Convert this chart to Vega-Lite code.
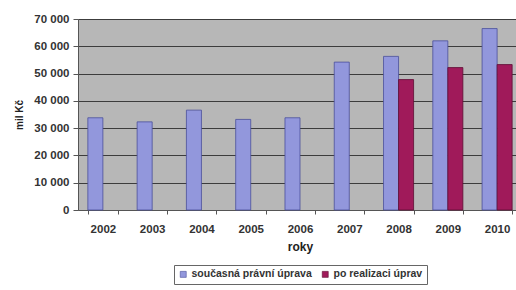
{
  "$schema": "https://vega.github.io/schema/vega-lite/v6.json",
  "autosize": "none",
  "padding": {"left": 78, "top": 19, "right": 0, "bottom": 80},
  "width": 444,
  "height": 191,
  "background": "white",
  "data": {"values": [
    {"rok": "2002", "serie": "současná právní úprava", "hodnota": 33800},
    {"rok": "2003", "serie": "současná právní úprava", "hodnota": 32300},
    {"rok": "2004", "serie": "současná právní úprava", "hodnota": 36600},
    {"rok": "2005", "serie": "současná právní úprava", "hodnota": 33200},
    {"rok": "2006", "serie": "současná právní úprava", "hodnota": 33800},
    {"rok": "2007", "serie": "současná právní úprava", "hodnota": 54200},
    {"rok": "2008", "serie": "současná právní úprava", "hodnota": 56300},
    {"rok": "2008", "serie": "po realizaci úprav", "hodnota": 47800},
    {"rok": "2009", "serie": "současná právní úprava", "hodnota": 62000},
    {"rok": "2009", "serie": "po realizaci úprav", "hodnota": 52200},
    {"rok": "2010", "serie": "současná právní úprava", "hodnota": 66500},
    {"rok": "2010", "serie": "po realizaci úprav", "hodnota": 53300}
  ]},
  "mark": {"type": "bar", "strokeWidth": 0.8},
  "encoding": {
    "x": {
      "field": "rok", "type": "nominal",
      "scale": {"paddingInner": 0.39, "paddingOuter": 0.2},
      "axis": {"title": "roky", "titleFontWeight": "bold", "titleFontSize": 12, "titlePadding": 7,
               "labelAngle": 0, "labelFontSize": 11.5, "labelFontWeight": "bold", "labelPadding": 9, "tickBand": "extent",
               "domainColor": "#555", "tickColor": "#555", "tickSize": 4, "labelColor": "#333", "titleColor": "#222"}
    },
    "xOffset": {"field": "serie", "type": "nominal", "sort": ["současná právní úprava", "po realizaci úprav"]},
    "y": {
      "field": "hodnota", "type": "quantitative",
      "scale": {"domain": [0, 70000]},
      "axis": {"title": "mil Kč", "titleFontWeight": "bold", "titleFontSize": 10, "titlePadding": 9,
               "values": [0, 10000, 20000, 30000, 40000, 50000, 60000, 70000],
               "labelExpr": "replace(format(datum.value, ','), ',', ' ')",
               "labelFontSize": 11.5, "labelFontWeight": "bold", "labelColor": "#333", "titleColor": "#222",
               "grid": true, "gridColor": "#3c3c3c", "gridWidth": 1,
               "domainColor": "#555", "tickColor": "#555", "tickSize": 5, "labelPadding": 4}
    },
    "color": {
      "field": "serie", "type": "nominal",
      "scale": {"domain": ["současná právní úprava", "po realizaci úprav"], "range": ["#9297dc", "#a01a5a"]},
      "legend": {"title": null, "orient": "bottom", "direction": "horizontal", "symbolType": "square",
                 "symbolSize": 36, "labelFontSize": 10.5, "labelFontWeight": "bold", "labelColor": "#333", "strokeColor": "#666",
                 "padding": 4, "offset": 12, "columnPadding": 8, "labelOffset": 3, "symbolStrokeColor": "#444", "symbolStrokeWidth": 0.6}
    },
    "stroke": {
      "field": "serie", "type": "nominal",
      "scale": {"domain": ["současná právní úprava", "po realizaci úprav"], "range": ["#4a4f9a", "#5e0d33"]},
      "legend": null
    }
  },
  "config": {
    "font": "Liberation Sans",
    "view": {"fill": "#b7b7b7", "stroke": null},
    "legend": {"layout": {"bottom": {"anchor": "middle"}}}
  }
}
